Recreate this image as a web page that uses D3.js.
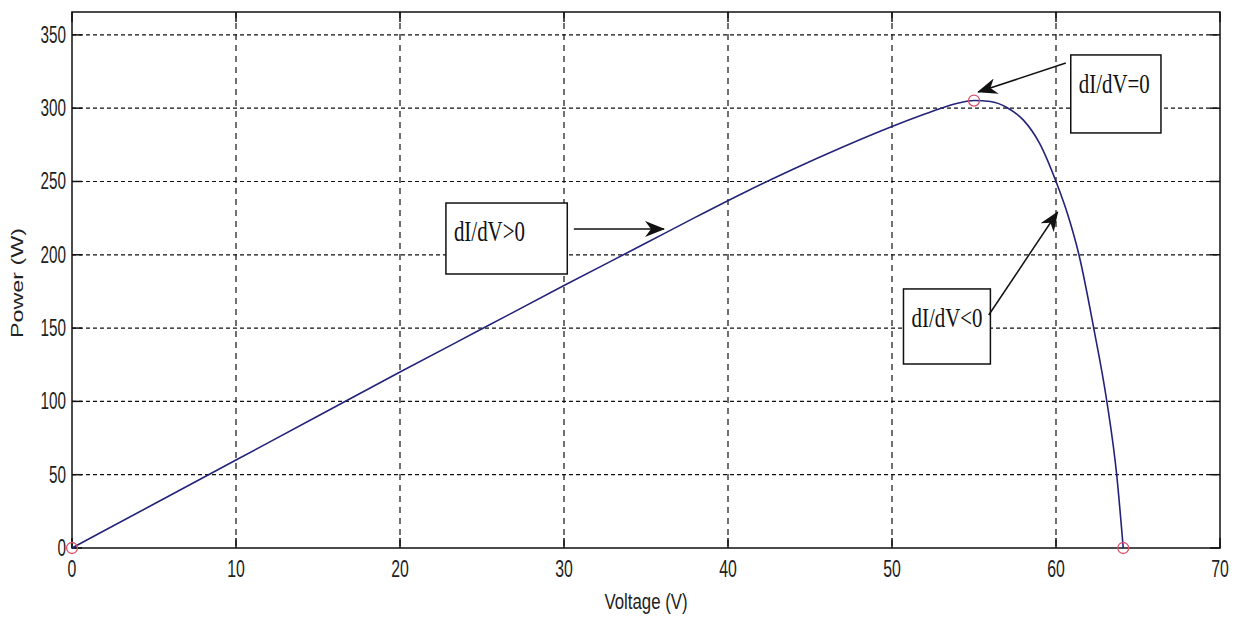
<!DOCTYPE html>
<html>
<head>
<meta charset="utf-8">
<script src="https://cdn.jsdelivr.net/npm/d3@7"></script>
<style>
  body { margin: 0; background: #fff; }
  svg { display: block; }
</style>
</head>
<body>
<script>
// P-V curve of the panel
const voltage = [0, 5, 10, 15, 20, 25, 30, 35, 38, 41, 44, 47, 50, 52, 53, 54, 55, 56, 57, 58, 59, 60, 60.7, 61.4, 62.3, 63.1, 63.7, 64.1]
const power   = [0, 30, 60, 90, 120, 149.5, 179, 208, 225.5, 242.5, 258.5, 273.5, 287.5, 296, 300, 303.3, 305.2, 304.6, 300.5, 292, 276, 250, 228, 200, 150, 100, 50, 0]

// marked points (start, MPP, Voc)
const markV = [0, 55, 64.1]
const markP = [0, 305.2, 0]

const xTicks = [0, 10, 20, 30, 40, 50, 60, 70]
const yTicks = [0, 50, 100, 150, 200, 250, 300, 350]

// annotation boxes, in data units: [v0, v1, pTop, pBottom]
const boxLabels = ["dI/dV>0", "dI/dV=0", "dI/dV<0"]
const boxRects = [[22.8, 30.2, 235.3, 186.9], [60.9, 66.4, 336.3, 283.1], [50.7, 56.0, 176.7, 125.5]]
const boxFont = [30, 28, 28]

// arrows: [vFrom, pFrom, vTo, pTo]
const arrows = [[30.6, 217.6, 36.1, 217.6], [60.6, 330.8, 55.25, 311], [55.9, 158.9, 60.1, 229.2]]

const W = 1237, H = 622
const mLeft = 72, mTop = 12, pw = 1148, ph = 536

let svg = d3.select("body").append("svg").attr("width", W).attr("height", H)

let x = d3.scaleLinear().domain([0, 70]).range([mLeft, mLeft + pw])
let y = d3.scaleLinear().domain([0, 365.6]).range([mTop + ph, mTop])

// grid
svg.append("g").selectAll("line")
    .data(xTicks.slice(1, -1))
    .enter().append("line")
    .attr("x1", d => x(d)).attr("x2", d => x(d))
    .attr("y1", mTop).attr("y2", mTop + ph)
    .attr("stroke", "#111").attr("stroke-width", 1.2)
    .attr("stroke-dasharray", "6,5")

svg.append("g").selectAll("line")
    .data(yTicks.slice(1))
    .enter().append("line")
    .attr("x1", mLeft).attr("x2", mLeft + pw)
    .attr("y1", d => y(d)).attr("y2", d => y(d))
    .attr("stroke", "#111").attr("stroke-width", 1.2)
    .attr("stroke-dasharray", "4,3")

// inward ticks on all four sides
let tl = 10
let ax = svg.append("g").attr("stroke", "#111").attr("stroke-width", 1.5)
xTicks.forEach(d => {
    ax.append("line").attr("x1", x(d)).attr("x2", x(d)).attr("y1", mTop + ph).attr("y2", mTop + ph - tl)
    ax.append("line").attr("x1", x(d)).attr("x2", x(d)).attr("y1", mTop).attr("y2", mTop + tl)
})
yTicks.forEach(d => {
    ax.append("line").attr("x1", mLeft).attr("x2", mLeft + tl).attr("y1", y(d)).attr("y2", y(d))
    ax.append("line").attr("x1", mLeft + pw).attr("x2", mLeft + pw - tl).attr("y1", y(d)).attr("y2", y(d))
})

svg.append("rect")
    .attr("x", mLeft).attr("y", mTop).attr("width", pw).attr("height", ph)
    .attr("fill", "none").attr("stroke", "#111").attr("stroke-width", 1.5)

// tick labels (narrow, like the squashed original)
let lblFont = "'Liberation Sans', Arial, sans-serif"
svg.append("g").selectAll("text")
    .data(xTicks)
    .enter().append("text")
    .attr("x", d => x(d)).attr("y", mTop + ph + 29)
    .attr("text-anchor", "middle")
    .attr("font-family", lblFont).attr("font-size", 23).attr("fill", "#222")
    .attr("textLength", d => String(d).length * 8.8)
    .attr("lengthAdjust", "spacingAndGlyphs")
    .text(d => d)

svg.append("g").selectAll("text")
    .data(yTicks)
    .enter().append("text")
    .attr("x", mLeft - 6).attr("y", d => y(d) + 8)
    .attr("text-anchor", "end")
    .attr("font-family", lblFont).attr("font-size", 23).attr("fill", "#222")
    .attr("textLength", d => String(d).length * 8.5)
    .attr("lengthAdjust", "spacingAndGlyphs")
    .text(d => d)

svg.append("text")
    .attr("x", x(35)).attr("y", mTop + ph + 61)
    .attr("text-anchor", "middle")
    .attr("font-family", lblFont).attr("font-size", 22).attr("fill", "#222")
    .attr("textLength", 83).attr("lengthAdjust", "spacingAndGlyphs")
    .text("Voltage (V)")

svg.append("text")
    .attr("transform", "translate(23," + 283 + ") rotate(-90)")
    .attr("text-anchor", "middle")
    .attr("font-family", lblFont).attr("font-size", 16).attr("fill", "#222")
    .attr("textLength", 110).attr("lengthAdjust", "spacingAndGlyphs")
    .text("Power (W)")

// the curve
let pts = voltage.map((v, i) => [v, power[i]])
let line = d3.line().x(d => x(d[0])).y(d => y(d[1])).curve(d3.curveMonotoneX)
svg.append("path")
    .attr("d", line(pts))
    .attr("fill", "none").attr("stroke", "#24237a").attr("stroke-width", 1.6)

svg.append("g").selectAll("circle")
    .data(markV)
    .enter().append("circle")
    .attr("cx", d => x(d)).attr("cy", (d, i) => y(markP[i]))
    .attr("r", 5.5)
    .attr("fill", "none").attr("stroke", "#d9506e").attr("stroke-width", 1.3)

// annotation boxes
boxRects.forEach((b, i) => {
    svg.append("rect")
        .attr("x", x(b[0])).attr("y", y(b[2]))
        .attr("width", x(b[1]) - x(b[0])).attr("height", y(b[3]) - y(b[2]))
        .attr("fill", "#fff").attr("stroke", "#111").attr("stroke-width", 1.5)
    svg.append("text")
        .attr("x", x(b[0]) + 8).attr("y", y(b[2]) + 38)
        .attr("font-family", "'Liberation Serif', 'Times New Roman', serif")
        .attr("font-size", boxFont[i]).attr("fill", "#111")
        .attr("textLength", 71).attr("lengthAdjust", "spacingAndGlyphs")
        .text(boxLabels[i])
})

// arrows
svg.append("defs").append("marker")
    .attr("id", "head")
    .attr("viewBox", "0 0 20 16")
    .attr("refX", 19).attr("refY", 8)
    .attr("markerWidth", 20).attr("markerHeight", 16)
    .attr("markerUnits", "userSpaceOnUse")
    .attr("orient", "auto")
    .append("path")
    .attr("d", "M0,0 L20,8 L0,16 L6,8 Z")
    .attr("fill", "#111")

arrows.forEach(a => {
    svg.append("line")
        .attr("x1", x(a[0])).attr("y1", y(a[1]))
        .attr("x2", x(a[2])).attr("y2", y(a[3]))
        .attr("stroke", "#111").attr("stroke-width", 1.5)
        .attr("marker-end", "url(#head)")
})
</script>
</body>
</html>
